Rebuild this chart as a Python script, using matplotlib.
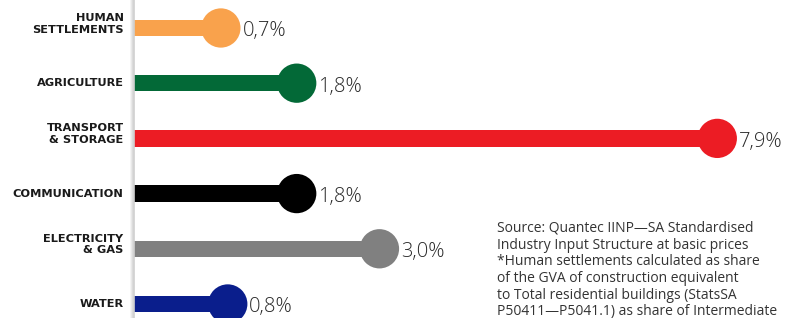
import matplotlib.pyplot as plt
from matplotlib.lines import Line2D

categories = ["HUMAN\nSETTLEMENTS", "AGRICULTURE", "TRANSPORT\n& STORAGE",
              "COMMUNICATION", "ELECTRICITY\n& GAS", "WATER"]
values = [0.7, 1.8, 7.9, 1.8, 3.0, 0.8]
labels = ["0,7%", "1,8%", "7,9%", "1,8%", "3,0%", "0,8%"]
colors = ["#F9A24C", "#036937", "#EC1C24", "#000000", "#808080", "#0A1E8C"]

source = ("Source: Quantec IINP\u2014SA Standardised\n"
          "Industry Input Structure at basic prices\n"
          "*Human settlements calculated as share\n"
          "of the GVA of construction equivalent\n"
          "to Total residential buildings (StatsSA\n"
          "P50411\u2014P5041.1) as share of Intermediate")

W, H = 789, 318
fig = plt.figure(figsize=(W / 100, H / 100), dpi=100)
left_px = 134
ax = fig.add_axes([left_px / W, 0, 1 - left_px / W, 1])

x0 = -0.56
ax.set_xlim(x0, 8.94)
ax.set_ylim(5.254, -0.507)

y = list(range(len(values)))
ax.barh(y, [v - x0 for v in values], left=x0, height=0.30, color=colors, zorder=2)
ax.scatter(values, y, s=800, color=colors, zorder=3, linewidths=0)

for v, yi, lab in zip(values, y, labels):
    ax.annotate(lab, (v, yi), xytext=(15.5, -2.5), textcoords="offset points",
                va="center", ha="left", fontsize=14.5, family="Open Sans",
                fontweight="light", color="#2a2a2a")

# category names, two-line ones sit a little above the bar centre
for yi, cat in zip(y, categories):
    dy = 3 if "\n" in cat else 0
    ax.annotate(cat, (0, yi), xycoords=("axes fraction", "data"),
                xytext=(-7.5, dy), textcoords="offset points",
                ha="right", va="center", fontsize=8.2, fontweight="bold",
                family="DejaVu Sans", color="#1a1a1a", linespacing=1.2,
                annotation_clip=False)

ax.set_xticks([])
ax.set_yticks([])
for s in ["top", "right", "bottom", "left"]:
    ax.spines[s].set_visible(False)

# vertical rule with soft shadow at the start of the bars
for dx, c in [(-3, "#f2f2f2"), (-2, "#e6e6e6"), (-1, "#d9d9d9"), (0, "#d0d0d0")]:
    xf = (left_px + dx) / W
    fig.add_artist(Line2D([xf, xf], [0, 1], color=c, linewidth=1.2,
                          transform=fig.transFigure))

fig.text(497 / W, 1 - 221 / H, source, ha="left", va="top", fontsize=10,
         family="Open Sans", color="#333333", linespacing=1.15)

fig.savefig("out.png", dpi=100)
